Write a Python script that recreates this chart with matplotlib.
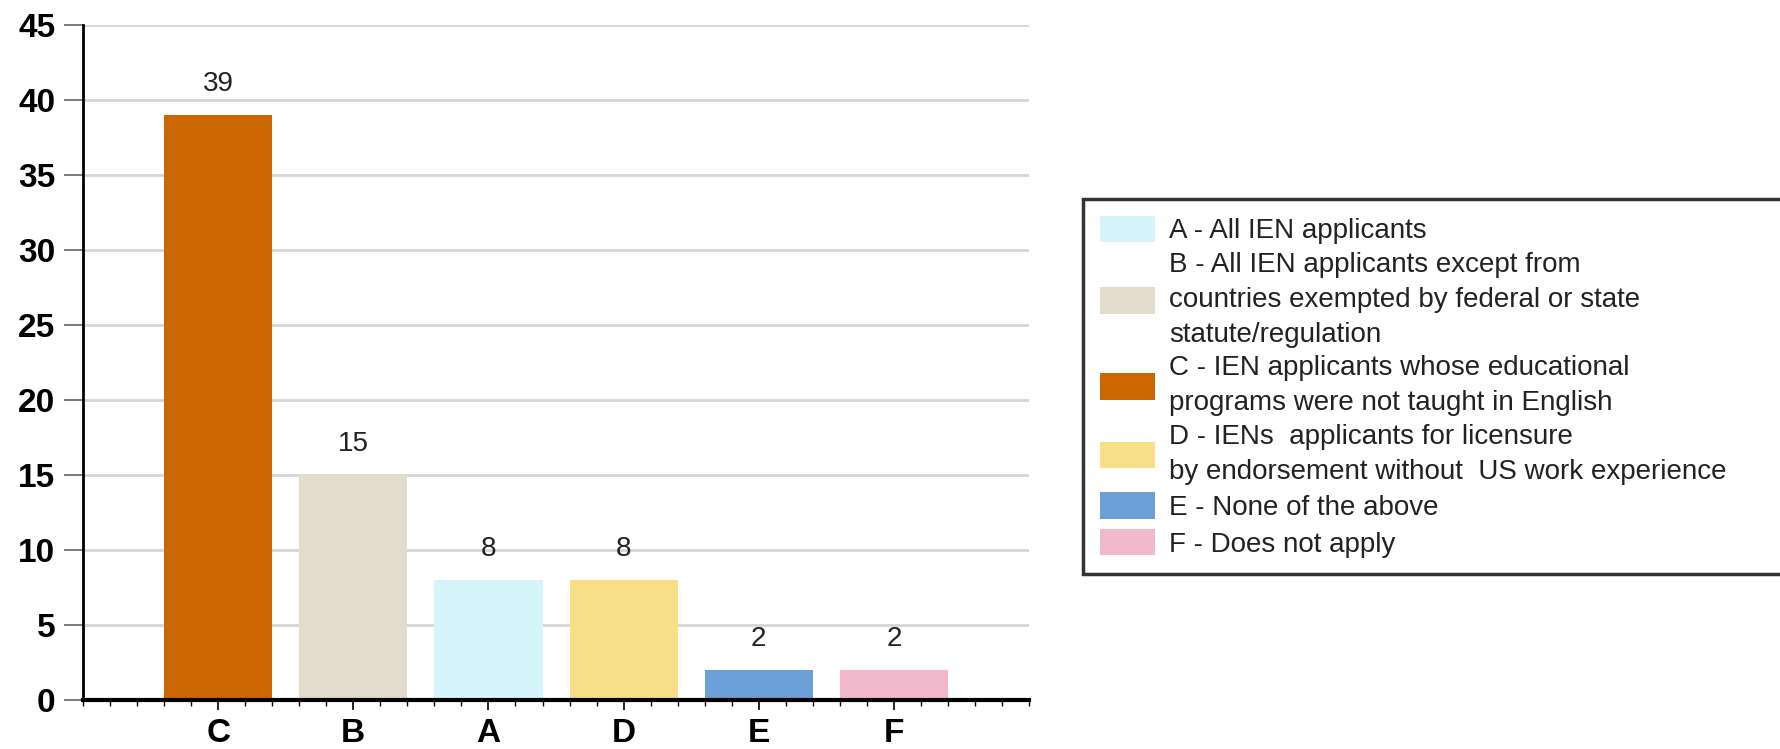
import matplotlib
matplotlib.use("Agg")
import matplotlib.pyplot as plt
from matplotlib.patches import Patch
from matplotlib.ticker import MultipleLocator

plt.rcParams['font.family'] = ['Liberation Sans', 'DejaVu Sans']

# bars as drawn, left to right
categories = ["C", "B", "A", "D", "E", "F"]
counts = [39, 15, 8, 8, 2, 2]
bar_colors = ["#CC6600", "#E3DBCB", "#D5F5FB", "#F8DE86", "#6A9FD8", "#F2B8CB"]

# legend keeps alphabetical order
legend_keys = ["A", "B", "C", "D", "E", "F"]
legend_labels = [
    "A - All IEN applicants",
    "B - All IEN applicants except from\ncountries exempted by federal or state\nstatute/regulation",
    "C - IEN applicants whose educational\nprograms were not taught in English",
    "D - IENs  applicants for licensure\nby endorsement without  US work experience",
    "E - None of the above",
    "F - Does not apply",
]

fig = plt.figure(figsize=(17.81, 7.49), dpi=100)
ax = fig.add_axes([0.0466, 0.0654, 0.5312, 0.9012])

x = list(range(len(categories)))
ax.bar(x, counts, width=0.8, color=bar_colors, zorder=2)

for xi, v in zip(x, counts):
    ax.annotate(str(v), (xi, v), xytext=(0, 13), textcoords="offset points",
                ha="center", va="bottom", fontsize=20, color="#222222")

ax.set_xlim(-1, 6)
ax.set_ylim(0, 45)
ax.yaxis.set_major_locator(MultipleLocator(5))
ax.set_xticks(x)
ax.set_xticklabels(categories)
ax.xaxis.set_minor_locator(MultipleLocator(0.2))

ax.grid(axis="y", color="#D6D6D6", linewidth=2, zorder=0)
for s in ["top", "right"]:
    ax.spines[s].set_visible(False)
ax.spines["left"].set_linewidth(2)
ax.spines["bottom"].set_linewidth(3)

ax.tick_params(axis="y", length=14, width=1.2, color="#666666", pad=6,
               labelsize=24)
ax.tick_params(axis="x", which="major", length=7, width=1.2, pad=6,
               labelsize=24)
ax.tick_params(axis="x", which="minor", length=4, width=1)
for lab in ax.get_xticklabels() + ax.get_yticklabels():
    lab.set_fontweight("bold")

color_of = dict(zip(categories, bar_colors))
handles = [Patch(facecolor=color_of[k], edgecolor="none") for k in legend_keys]
leg = fig.legend(handles, legend_labels, loc="upper left",
                 bbox_to_anchor=(0.608, 0.7343, 0.5, 0.0), mode="expand",
                 borderaxespad=0, fontsize=20, frameon=True, fancybox=False,
                 edgecolor="black", handlelength=2.0, handleheight=1.1,
                 handletextpad=0.5, labelspacing=0.27, borderpad=0.6)
leg.get_frame().set_linewidth(2.5)
for t in leg.get_texts():
    t.set_linespacing(1.45)
    t.set_color("#222222")

fig.savefig("out.png", dpi=100)
